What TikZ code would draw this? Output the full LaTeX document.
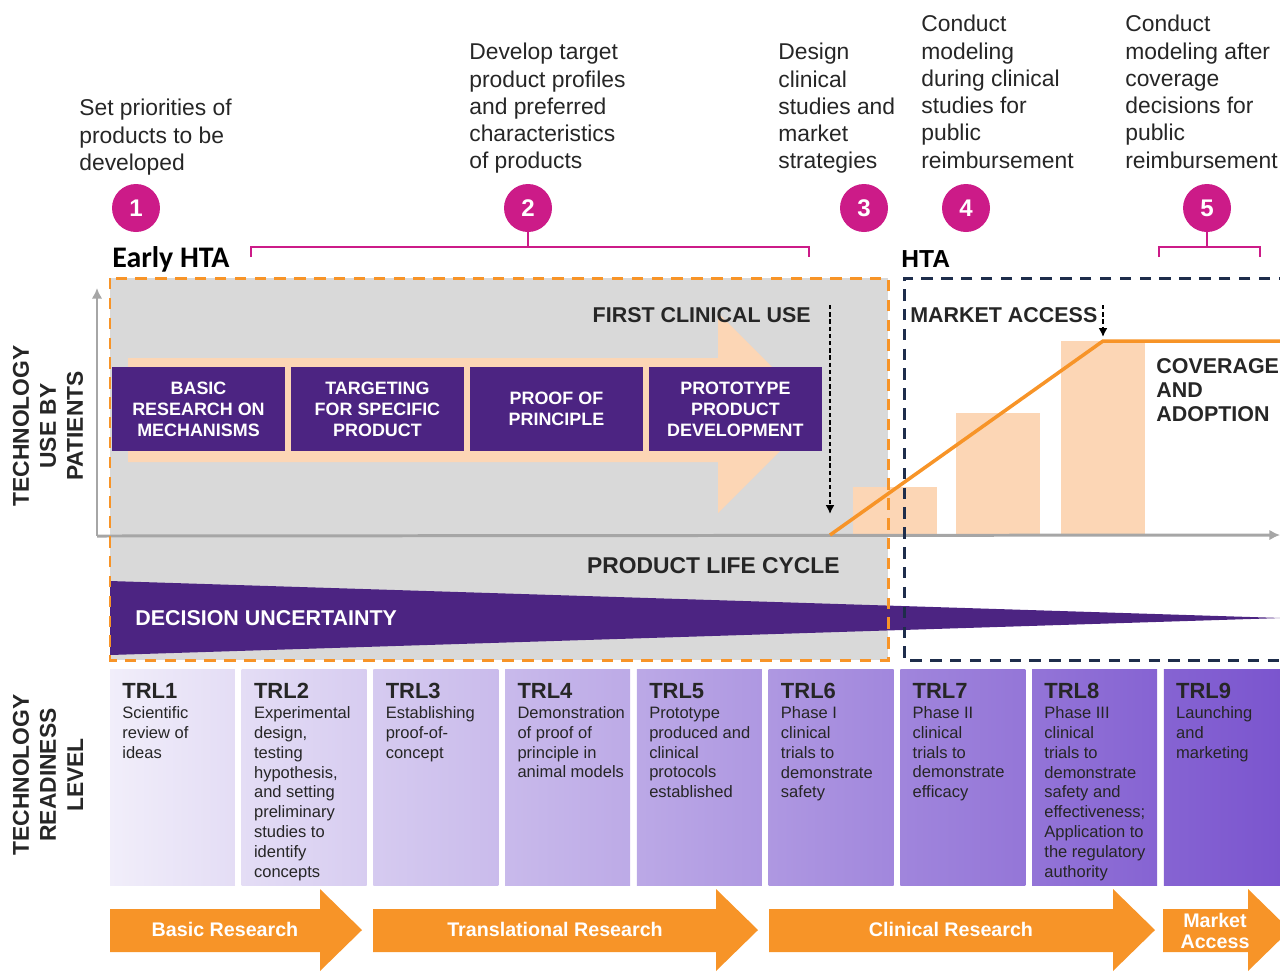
\documentclass[tikz,border=0pt]{standalone}
\usepackage{fontspec}
\setmainfont{Liberation Sans}
\newfontfamily\calfont{Carlito}
\usetikzlibrary{positioning, arrows.meta}

\definecolor{hlmagenta}{RGB}{204,27,136}
\definecolor{uncpurple}{RGB}{76,36,130}
\definecolor{peach}{RGB}{252,214,181}
\definecolor{hlorange}{RGB}{247,148,40}
\definecolor{boxgray}{RGB}{217,217,217}
\definecolor{axisgray}{RGB}{166,166,166}
\definecolor{htanavy}{RGB}{30,45,75}
\definecolor{txtgray}{RGB}{38,38,38}
\definecolor{trllight}{RGB}{241,238,250}
\definecolor{trldark}{RGB}{122,84,206}

\newcommand{\fsz}[2]{\fontsize{#1}{#2}\selectfont}

\tikzset{
    num/.style={circle, fill=hlmagenta, minimum size=0.96cm, inner sep=0pt, text=white, font=\fsz{13.7}{16}\bfseries},
    brk/.style={hlmagenta, line width=1.4pt},
    note/.style={anchor=north west, inner sep=0pt, align=left, text=txtgray, font=\fsz{13}{15.5}},
    stage/.style={fill=uncpurple, text=white, minimum width=3.45cm, minimum height=1.68cm, inner sep=0pt, outer sep=0pt, align=center, font=\fsz{10.2}{12}\bfseries},
    caps/.style={inner sep=0pt, text=txtgray, font=\fsz{12.2}{13.7}\bfseries},
    axislabel/.style={rotate=90, align=center, inner sep=0pt, text=txtgray, font=\fsz{13}{15.4}\bfseries},
    axisline/.style={axisgray, line width=1.7pt, ->, >={Latex[length=6pt, width=6pt]}},
    droparrow/.style={black, line width=1.1pt, dash pattern=on 2.5pt off 1.6pt, ->, >={Latex[length=5pt, width=5pt]}},
    dashline/.style={line width=1.7pt, dash pattern=on 6.5pt off 4.8pt},
    trlbox/.style={anchor=north west, minimum width=2.5cm, minimum height=4.34cm, inner sep=0pt, outer sep=0pt},
    trltext/.style={inner sep=0pt, align=left, text=txtgray, font=\fsz{9.4}{11.3}},
    phaselabel/.style={text=white, align=center, inner sep=0pt, font=\fsz{11.2}{12}\bfseries},
}

\begin{document}
\begin{tikzpicture}[x=0.02cm, y=-0.02cm]
    \clip (0,0) rectangle (1280,971);

    \node[note] (n1) at (79,99) {Set priorities of\\products to be\\developed};
    \node[note] (n2) at (469,43) {Develop target\\product profiles\\and preferred\\characteristics\\of products};
    \node[note] (n3) at (778,43) {Design\\clinical\\studies and\\market\\strategies};
    \node[note] (n4) at (921,15) {Conduct\\modeling\\during clinical\\studies for\\public\\reimbursement};
    \node[note] (n5) at (1125,15) {Conduct\\modeling after\\coverage\\decisions for\\public\\reimbursement};

    \node[num] (c1) at (136,208) {1};
    \node[num] (c2) at (528,208) {2};
    \node[num] (c3) at (864,208) {3};
    \node[num] (c4) at (966,208) {4};
    \node[num] (c5) at (1207,208) {5};

    \coordinate (b2l) at (251,257);
    \coordinate (b2m) at (528,247);
    \coordinate (b2r) at (809,257);
    \draw[brk] (b2l) |- (b2m) -| (b2r);
    \draw[brk] (c2) -- (b2m);
    \coordinate (b5l) at (1159,257);
    \coordinate (b5m) at (1207,247);
    \coordinate (b5r) at (1260,257);
    \draw[brk] (b5l) |- (b5m) -| (b5r);
    \draw[brk] (c5) -- (b5m);

    \node[anchor=base west, inner sep=0pt, font=\calfont\fsz{17}{20}\bfseries] (early) at (112,267) {Early HTA};
    \node[anchor=base west, inner sep=0pt, font=\fsz{14}{17}\bfseries] (hta) at (901,267) {HTA};

    \fill[boxgray] (110,278) rectangle (888,660);
    \fill[peach] (128,358) -- (718,358) -- (718,313) -- (818,413) -- (718,513) -- (718,462) -- (128,462) -- cycle;

    \node[stage] (s1) at (198.5,409) {BASIC\\RESEARCH ON\\MECHANISMS};
    \node[stage, right=0.13cm of s1] (s2) {TARGETING\\FOR SPECIFIC\\PRODUCT};
    \node[stage, right=0.13cm of s2] (s3) {PROOF OF\\PRINCIPLE};
    \node[stage, right=0.13cm of s3] (s4) {PROTOTYPE\\PRODUCT\\DEVELOPMENT};

    \fill[peach] (853,487) rectangle (937,535);
    \fill[peach] (956,413) rectangle (1040,535);
    \fill[peach] (1061,341) rectangle (1145,535);

    \fill[uncpurple] (110,581) -- (1282,618) -- (110,655) -- cycle;

    \coordinate (origin) at (97,536);
    \coordinate (ytip) at (97,288);
    \coordinate (xtip) at (1280,535);
    \draw[axisline] (origin) -- (ytip);
    \draw[axisline] (origin) -- (xtip);

    \coordinate (launch) at (830,535);
    \coordinate (peak) at (1103,341);
    \coordinate (plateau) at (1290,341);
    \draw[hlorange, line width=2pt] (launch) -- (peak) -- (plateau);

    \draw[hlorange, dashline] (110,278) rectangle (888,660);
    \draw[htanavy, dashline] (1290,278) -- (904,278) -- (904,660) -- (1290,660);

    \coordinate (fcutop) at (830,305);
    \coordinate (fcuend) at (830,514);
    \draw[droparrow] (fcutop) -- (fcuend);
    \coordinate (matop) at (1103,305);
    \coordinate (maend) at (1103,337);
    \draw[droparrow] (matop) -- (maend);

    \node[caps, anchor=east] (fcu) at (811,315) {FIRST CLINICAL USE};
    \node[caps, anchor=west] (ma) at (910,315) {MARKET ACCESS};
    \node[caps, anchor=north west, align=left, font=\fsz{12.2}{13.8}\bfseries] (cov) at (1156,358) {COVERAGE\\AND\\ADOPTION};
    \node[caps, anchor=east, font=\fsz{13}{15}\bfseries] (plc) at (840,566) {PRODUCT LIFE CYCLE};
    \node[caps, anchor=west, text=white] (du) at (135,618) {DECISION UNCERTAINTY};

    \node[axislabel] (usage) at (48,426) {TECHNOLOGY\\USE BY\\PATIENTS};
    \node[axislabel] (readiness) at (48,775) {TECHNOLOGY\\READINESS\\LEVEL};

    \node[trlbox, left color=trllight, right color=trldark!11!trllight] (trl1) at (110,669) {};
    \node[trlbox, left color=trldark!11!trllight, right color=trldark!22!trllight, right=0.135cm of trl1] (trl2) {};
    \node[trlbox, left color=trldark!23!trllight, right color=trldark!33!trllight, right=0.135cm of trl2] (trl3) {};
    \node[trlbox, left color=trldark!34!trllight, right color=trldark!44!trllight, right=0.135cm of trl3] (trl4) {};
    \node[trlbox, left color=trldark!45!trllight, right color=trldark!56!trllight, right=0.135cm of trl4] (trl5) {};
    \node[trlbox, left color=trldark!56!trllight, right color=trldark!67!trllight, right=0.135cm of trl5] (trl6) {};
    \node[trlbox, left color=trldark!68!trllight, right color=trldark!78!trllight, right=0.135cm of trl6] (trl7) {};
    \node[trlbox, left color=trldark!79!trllight, right color=trldark!90!trllight, right=0.135cm of trl7] (trl8) {};
    \node[trlbox, left color=trldark!90!trllight, right color=trldark, right=0.135cm of trl8] (trl9) {};

    \node[trltext, below right=0.28cm and 0.24cm of trl1.north west] (d1) {{\fsz{12.5}{14}\bfseries TRL1}\\Scientific\\review of\\ideas};
    \node[trltext, below right=0.28cm and 0.24cm of trl2.north west] (d2) {{\fsz{12.5}{14}\bfseries TRL2}\\Experimental\\design,\\testing\\hypothesis,\\and setting\\preliminary\\studies to\\identify\\concepts};
    \node[trltext, below right=0.28cm and 0.24cm of trl3.north west] (d3) {{\fsz{12.5}{14}\bfseries TRL3}\\Establishing\\proof-of-\\concept};
    \node[trltext, below right=0.28cm and 0.24cm of trl4.north west] (d4) {{\fsz{12.5}{14}\bfseries TRL4}\\Demonstration\\of proof of\\principle in\\animal models};
    \node[trltext, below right=0.28cm and 0.24cm of trl5.north west] (d5) {{\fsz{12.5}{14}\bfseries TRL5}\\Prototype\\produced and\\clinical\\protocols\\established};
    \node[trltext, below right=0.28cm and 0.24cm of trl6.north west] (d6) {{\fsz{12.5}{14}\bfseries TRL6}\\Phase I\\clinical\\trials to\\demonstrate\\safety};
    \node[trltext, below right=0.28cm and 0.24cm of trl7.north west] (d7) {{\fsz{12.5}{14}\bfseries TRL7}\\Phase II\\clinical\\trials to\\demonstrate\\efficacy};
    \node[trltext, below right=0.28cm and 0.24cm of trl8.north west] (d8) {{\fsz{12.5}{14}\bfseries TRL8}\\Phase III\\clinical\\trials to\\demonstrate\\safety and\\effectiveness;\\Application to\\the regulatory\\authority};
    \node[trltext, below right=0.28cm and 0.24cm of trl9.north west] (d9) {{\fsz{12.5}{14}\bfseries TRL9}\\Launching\\and\\marketing};

    \fill[hlorange] (110,909) -- (320,909) -- (320,889) -- (362,930) -- (320,971) -- (320,952) -- (110,952) -- cycle;
    \fill[hlorange] (373,909) -- (716,909) -- (716,889) -- (758,930) -- (716,971) -- (716,952) -- (373,952) -- cycle;
    \fill[hlorange] (769,909) -- (1113,909) -- (1113,889) -- (1155,930) -- (1113,971) -- (1113,952) -- (769,952) -- cycle;
    \fill[hlorange] (1163,909) -- (1248,909) -- (1248,889) -- (1290,930) -- (1248,971) -- (1248,952) -- (1163,952) -- cycle;

    \node[phaselabel] (basic) at (225,929) {Basic Research};
    \node[phaselabel] (transl) at (555,929) {Translational Research};
    \node[phaselabel] (clin) at (951,929) {Clinical Research};
    \node[phaselabel] (market) at (1215,931) {Market\\Access};
\end{tikzpicture}
\end{document}
